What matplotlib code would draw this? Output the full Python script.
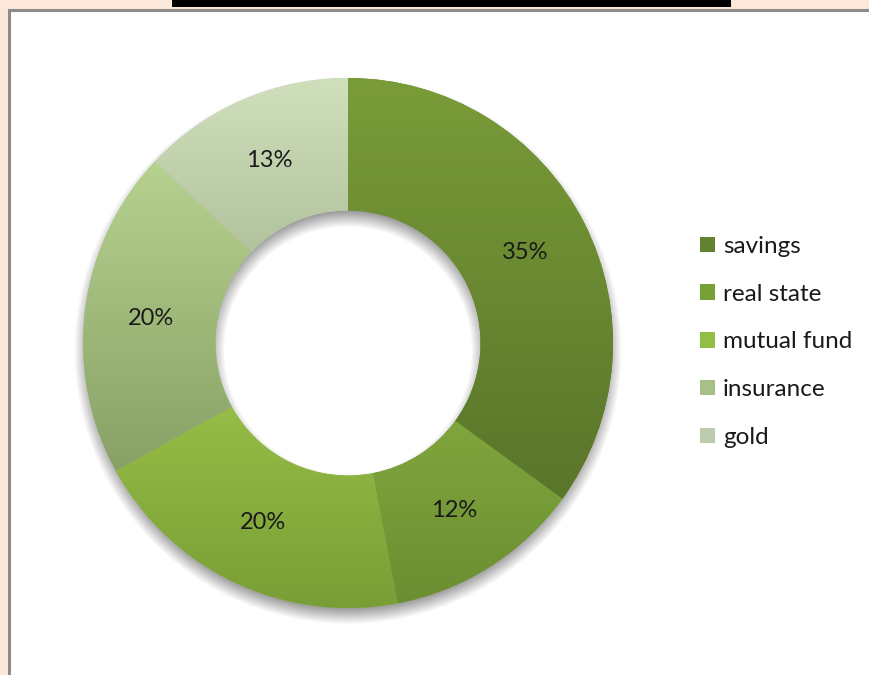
import numpy as np
import matplotlib.pyplot as plt
from matplotlib.patches import Rectangle, Patch
from matplotlib.colors import LinearSegmentedColormap

labels = ['savings', 'real state', 'mutual fund', 'insurance', 'gold']
shares = [35, 12, 20, 20, 13]
# top / bottom colour of each slice gradient
tops = ['#7A9C38', '#8AB043', '#9FC64C', '#B6D28F', '#D0E0BC']
bottoms = ['#59752A', '#6A8E31', '#789D35', '#88A066', '#A2B38D']
mids = ['#62822F', '#77A036', '#92BE45', '#A6C088', '#BCCBAD']

W, H = 870, 675
plt.rcParams['font.family'] = ['Lato', 'DejaVu Sans']

fig = plt.figure(figsize=(W/100, H/100), dpi=100)
fig.patch.set_facecolor('#FCE8DA')

# white chart area with grey frame
fig.add_artist(Rectangle((9.5/W, -0.05), 1.2, (H-10)/H + 0.05, transform=fig.transFigure,
                         facecolor='white', edgecolor='#8C8C8C', lw=2.2, zorder=0))
# bottom of the title bar above the chart
fig.add_artist(Rectangle((172/W, (H-7)/H), (731-172)/W, 7/H, transform=fig.transFigure,
                         facecolor='black', edgecolor='none', zorder=1))

cx, cy, R = 348, 343, 265
lim = 1.12
ax = fig.add_axes([(cx - R*lim)/W, (H - cy - R*lim)/H, 2*R*lim/W, 2*R*lim/H])
ax.set_xlim(-lim, lim)
ax.set_ylim(-lim, lim)
ax.set_aspect('equal')
ax.axis('off')

# soft drop shadow under the ring
g = np.linspace(-lim, lim, 600)
xx, yy = np.meshgrid(g, g)
off, blur = 0.028, 0.035
rr = np.hypot(xx, yy + off)
a = np.clip((1.0 + blur - rr)/(2*blur), 0, 1) * np.clip((rr - 0.5 + blur)/(2*blur), 0, 1)
shadow = np.zeros(xx.shape + (4,))
shadow[..., 3] = a * 0.45
ax.imshow(shadow, extent=[-lim, lim, -lim, lim], origin='lower', zorder=0.5,
          interpolation='bilinear')

wedges, texts, pcts = ax.pie(shares, startangle=90, counterclock=False,
                             colors=mids, radius=1.0,
                             wedgeprops=dict(width=0.5, edgecolor='none', zorder=1),
                             autopct=lambda p: f'{p:.0f}%', pctdistance=0.75,
                             textprops=dict(fontsize=17, color='#1A1A1A'))
ax.set_xlim(-lim, lim)
ax.set_ylim(-lim, lim)

# vertical gradient inside each slice
for w, c0, c1 in zip(wedges, tops, bottoms):
    v = w.get_path().vertices
    x0, x1 = v[:, 0].min(), v[:, 0].max()
    y0, y1 = v[:, 1].min(), v[:, 1].max()
    cmap = LinearSegmentedColormap.from_list('grad', [c1, c0])
    grad = np.linspace(0, 1, 256).reshape(-1, 1)
    im = ax.imshow(grad, cmap=cmap, extent=[x0, x1, y0, y1], origin='lower',
                   aspect='auto', zorder=2, interpolation='bilinear')
    im.set_clip_path(w)

for t in pcts:
    t.set_zorder(5)

handles = [Patch(facecolor=m, edgecolor='none') for m in mids]
fig.legend(handles, labels, loc='center left', bbox_to_anchor=(700/W, (H - 342)/H),
           frameon=False, fontsize=17.5, labelspacing=1.1, handlelength=0.6,
           handleheight=0.6, handletextpad=0.35, borderpad=0, borderaxespad=0,
           labelcolor='#1A1A1A')

fig.savefig('out.png', dpi=100)
